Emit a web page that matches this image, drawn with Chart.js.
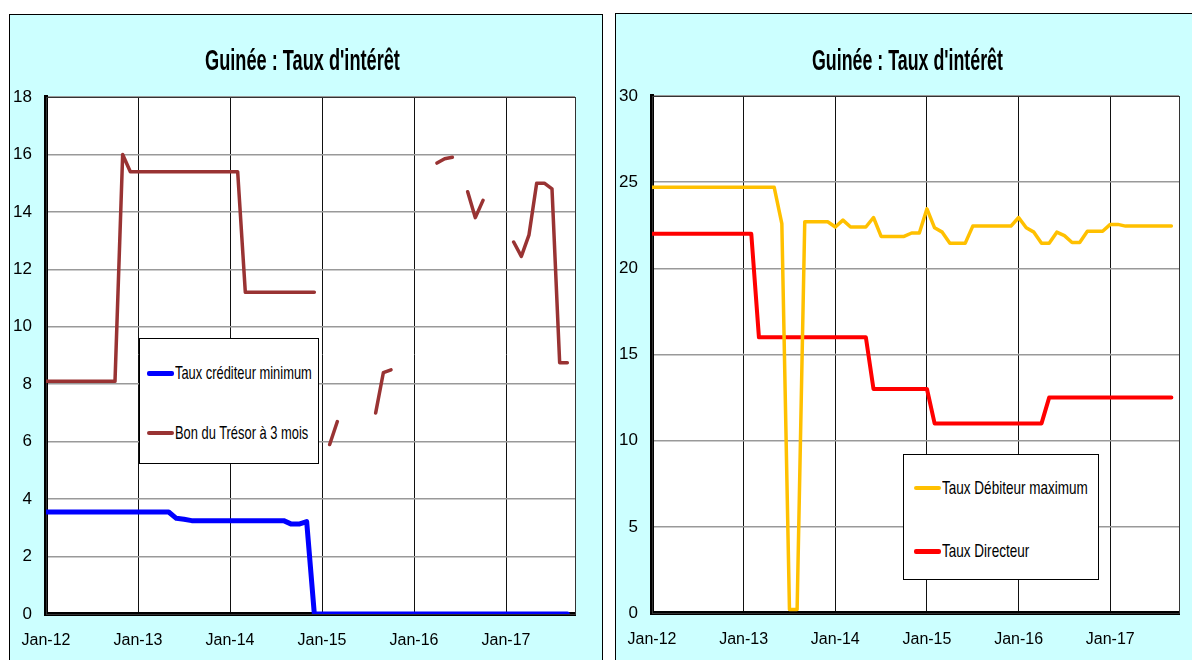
<!DOCTYPE html>
<html>
<head>
<meta charset="utf-8">
<script src="https://cdn.jsdelivr.net/npm/chart.js@4.4.0/dist/chart.umd.min.js"></script>
<style>
  body { margin:0; width:1192px; height:660px; overflow:hidden; background:#fff; position:relative;
         font-family:'Liberation Sans Narrow','Arial Narrow','Liberation Sans',sans-serif; }
  .panel { position:absolute; border:1px solid #000; background:#CCFFFF; overflow:hidden; }
  .panel canvas { position:absolute; left:0; top:0; }
  .titre { position:absolute; font-weight:bold; font-size:29px; line-height:28px; white-space:nowrap; color:#000; }
  .titre span { display:inline-block; transform-origin:center; }
  .legende { position:absolute; background:#fff; border:1px solid #000; }
  .item { position:absolute; font-size:19px; line-height:20px; white-space:nowrap; color:#000; }
  .item i { position:absolute; border-radius:2px; }
  .item span { display:inline-block; transform-origin:left center; }
</style>
</head>
<body>
<div class="panel" id="p1" style="left:9px;top:14px;width:592px;height:660px">
  <canvas id="c1" width="591" height="645"></canvas>
</div>
<div class="panel" id="p2" style="left:615px;top:13px;width:600px;height:660px">
  <canvas id="c2" width="576" height="646"></canvas>
</div>
<div class="titre" id="t1"><span>Guinée : Taux d'intérêt</span></div>
<div class="titre" id="t2"><span>Guinée : Taux d'intérêt</span></div>
<div class="legende" id="l1" style="left:139px;top:338px;width:178px;height:124px"></div>
<div class="legende" id="l2" style="left:903px;top:454px;width:194px;height:124px"></div>
<script>
var yearLabels = ['Jan-12','Jan-13','Jan-14','Jan-15','Jan-16','Jan-17'];

// Graphique 1 : Jan-12 .. Sep-17, mensuel
var labels1 = ['Taux créditeur minimum', 'Bon du Trésor à 3 mois'];
var tauxCrediteur = [
  3.55,3.55,3.55,3.55,3.55,3.55,3.55,3.55,3.55,3.55,3.55,3.55,
  3.55,3.55,3.55,3.55,3.55,3.33,3.3,3.25,3.25,3.25,3.25,3.25,
  3.25,3.25,3.25,3.25,3.25,3.25,3.25,3.25,3.13,3.13,3.22,0,
  0,0,0,0,0,0,0,0,0,0,0,0,
  0,0,0,0,0,0,0,0,0,0,0,0,
  0,0,0,0,0,0,0,0,0
];
var bonTresor = [
  8.1,8.1,8.1,8.1,8.1,8.1,8.1,8.1,8.1,8.1,16.0,15.4,
  15.4,15.4,15.4,15.4,15.4,15.4,15.4,15.4,15.4,15.4,15.4,15.4,
  15.4,15.4,11.2,11.2,11.2,11.2,11.2,11.2,11.2,11.2,11.2,11.2,
  null,5.9,6.7,null,null,null,null,7.0,8.4,8.5,null,null,
  null,null,null,15.7,15.85,15.9,null,14.7,13.8,14.4,null,null,
  null,12.95,12.45,13.2,15.0,15.0,14.8,8.75,8.75
];

// Graphique 2
var labels2 = ['Taux Débiteur maximum', 'Taux Directeur'];
var tauxDebiteur = [
  24.7,24.7,24.7,24.7,24.7,24.7,24.7,24.7,24.7,24.7,24.7,24.7,
  24.7,24.7,24.7,24.7,24.7,22.6,0.2,0.2,22.7,22.7,22.7,22.7,
  22.4,22.8,22.4,22.4,22.4,22.95,21.85,21.85,21.85,21.85,22.05,22.05,
  23.45,22.35,22.1,21.45,21.45,21.45,22.45,22.45,22.45,22.45,22.45,22.45,
  22.95,22.35,22.1,21.45,21.45,22.1,21.9,21.5,21.5,22.15,22.15,22.15,
  22.55,22.55,22.45,22.45,22.45,22.45,22.45,22.45,22.45
];
var tauxDirecteur = [
  22,22,22,22,22,22,22,22,22,22,22,22,
  22,22,16,16,16,16,16,16,16,16,16,16,
  16,16,16,16,16,13,13,13,13,13,13,13,
  13,11,11,11,11,11,11,11,11,11,11,11,
  11,11,11,11,12.5,12.5,12.5,12.5,12.5,12.5,12.5,12.5,
  12.5,12.5,12.5,12.5,12.5,12.5,12.5,12.5,12.5
];

var police = "'Liberation Sans Narrow','Arial Narrow','Liberation Sans',sans-serif";

function pts(arr) {
  return arr.map(function(v, i) { return {x: i, y: v}; });
}

var cadre = {
  id: 'cadre',
  beforeDraw: function(chart) {
    var a = chart.chartArea, ctx = chart.ctx;
    ctx.save();
    ctx.fillStyle = '#fff';
    ctx.fillRect(a.left, a.top, a.right - a.left, a.bottom - a.top);
    ctx.restore();
  },
  beforeDatasetsDraw: function(chart) {
    var a = chart.chartArea, ctx = chart.ctx;
    ctx.save();
    ctx.strokeStyle = '#333';
    ctx.lineWidth = 1;
    ctx.strokeRect(a.left + 0.5, a.top + 0.5, a.right - a.left, a.bottom - a.top);
    ctx.restore();
  }
};

function makeChart(id, datasets, ymax, ystep, padRight, xh) {
  return new Chart(document.getElementById(id), {
    type: 'line',
    data: { datasets: datasets },
    plugins: [cadre],
    options: {
      responsive: false,
      animation: false,
      layout: { padding: { top: 82, right: padRight, left: 0, bottom: 0 } },
      plugins: { legend: { display: false }, title: { display: false }, tooltip: { enabled: false } },
      elements: { point: { radius: 0 }, line: { tension: 0, borderCapStyle: 'round', borderJoinStyle: 'round' } },
      scales: {
        x: {
          type: 'linear', min: 0, max: 69,
          afterFit: function(s) { s.height = xh; s.paddingLeft = 0; s.paddingRight = 0; },
          afterBuildTicks: function(s) { s.ticks = s.ticks.filter(function(t) { return t.value % 12 === 0; }); },
          ticks: { stepSize: 12, padding: 17, color: '#000', maxRotation: 0, autoSkip: false,
                   font: { family: police, size: 16 },
                   callback: function(v) { return yearLabels[v / 12]; } },
          grid: { color: '#111', lineWidth: 1, drawTicks: false },
          border: { color: '#000', width: 4 }
        },
        y: {
          min: 0, max: ymax,
          afterFit: function(s) { s.width = 36; s.paddingTop = 0; s.paddingBottom = 0; },
          ticks: { stepSize: ystep, padding: 14, color: '#000', font: { family: police, size: 17 } },
          grid: { color: '#999', lineWidth: 1.5, drawTicks: false },
          border: { color: '#000', width: 4 }
        }
      }
    }
  });
}

makeChart('c1', [
  { label: labels1[0], data: pts(tauxCrediteur), borderColor: '#0000FF', borderWidth: 5, spanGaps: false },
  { label: labels1[1], data: pts(bonTresor), borderColor: '#993333', borderWidth: 3.5, spanGaps: false }
], 18, 2, 26, 46);

makeChart('c2', [
  { label: labels2[0], data: pts(tauxDebiteur), borderColor: '#FFC000', borderWidth: 3.5, spanGaps: false },
  { label: labels2[1], data: pts(tauxDirecteur), borderColor: '#FF0000', borderWidth: 4, spanGaps: false }
], 30, 5, 13, 47);

// titres
function placeTitre(id, cx, top, largeur) {
  var d = document.getElementById(id), sp = d.firstChild;
  var w = sp.offsetWidth;
  sp.style.transform = 'scaleX(' + (largeur / w) + ')';
  d.style.left = (cx - w / 2) + 'px';
  d.style.top = top + 'px';
}
placeTitre('t1', 302, 46, 195);
placeTitre('t2', 907, 46, 191);

// légendes
function legende(id, noms, couleurs, epaisseurs, x0, ys, lx, largeur1) {
  var box = document.getElementById(id);
  var r = box.getBoundingClientRect();
  var k0 = null;
  noms.forEach(function(n, k) {
    var it = document.createElement('div');
    it.className = 'item';
    it.style.left = (x0 - r.left) + 'px';
    it.style.top = (ys[k] - r.top - 10) + 'px';
    it.innerHTML = '<i style="left:0;width:' + lx + 'px;background:' + couleurs[k] + ';height:' + epaisseurs[k] + 'px;top:' + (10 - epaisseurs[k] / 2) + 'px"></i>' +
      '<span style="margin-left:' + (lx + 1) + 'px">' + n + '</span>';
    box.appendChild(it);
    var sp = it.lastChild;
    if (k0 === null) k0 = largeur1 / sp.offsetWidth;
    sp.style.transform = 'scaleX(' + k0 + ')';
  });
}
legende('l1', labels1, ['#0000FF', '#993333'], [5, 4], 146, [372, 432], 27, 137);
legende('l2', labels2, ['#FFC000', '#FF0000'], [4, 5], 913, [487, 550], 27, 146);
</script>
</body>
</html>
